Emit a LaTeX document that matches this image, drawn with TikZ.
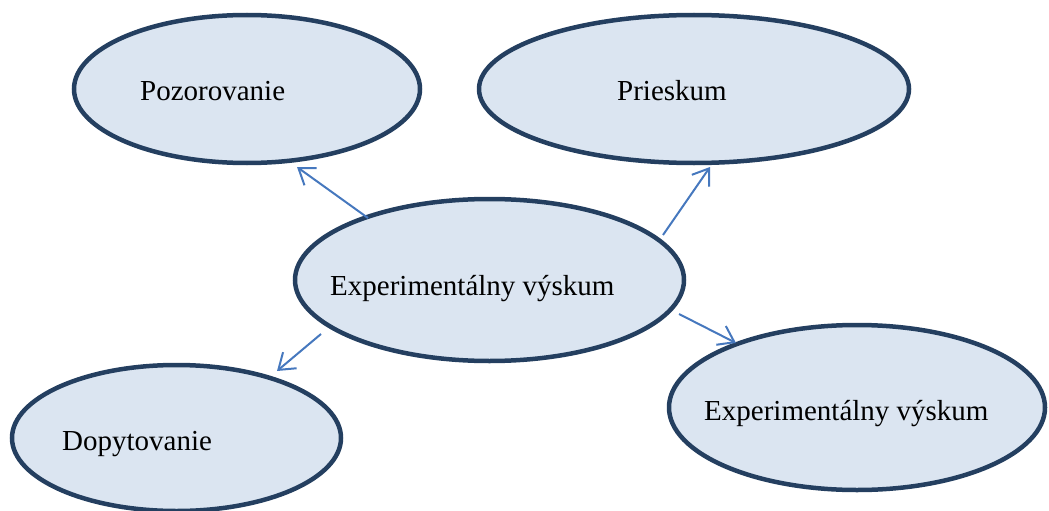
\documentclass[tikz,border=0pt]{standalone}
\usepackage{fontspec}
\setmainfont{Liberation Serif}
\usetikzlibrary{arrows.meta,shapes.geometric}
\definecolor{ebord}{RGB}{36,63,96}
\definecolor{efill}{RGB}{219,229,241}
\definecolor{arr}{RGB}{70,120,190}
\tikzset{
  oval/.style={ellipse, draw=ebord, fill=efill, line width=4.5pt, inner sep=0pt},
  lbl/.style={anchor=base west, font=\fontsize{29}{34}\selectfont, inner sep=0pt},
  conn/.style={draw=arr, line width=2pt, -{Straight Barb[length=15pt,width=21pt,line width=2pt]}}
}
\begin{document}
\begin{tikzpicture}[x=1pt,y=-1pt]
\useasboundingbox (0,0) rectangle (1049,511);
\node[oval, minimum width=346pt, minimum height=148pt] (poz) at (247,89) {};
\node[oval, minimum width=430pt, minimum height=148pt] (pri) at (694,89) {};
\node[oval, minimum width=389pt, minimum height=162pt] (exp) at (489.5,280) {};
\node[oval, minimum width=329pt, minimum height=146pt] (dop) at (176.5,438) {};
\node[oval, minimum width=376pt, minimum height=165pt] (exq) at (857,407.5) {};
\node[lbl] (pozt) at (140,100) {Pozorovanie};
\node[lbl] (prit) at (617,100) {Prieskum};
\node[lbl] (expt) at (330,295) {Experimentálny výskum};
\node[lbl] (dopt) at (62,450) {Dopytovanie};
\node[lbl] (exqt) at (704,420) {Experimentálny výskum};
\coordinate (s1) at (368,218);
\coordinate (e1) at (297,167);
\coordinate (s2) at (663,235);
\coordinate (e2) at (710,167);
\coordinate (s3) at (321,334);
\coordinate (e3) at (277,371);
\coordinate (s4) at (679,314);
\coordinate (e4) at (736,343);
\draw[conn] (s1) -- (e1);
\draw[conn] (s2) -- (e2);
\draw[conn] (s3) -- (e3);
\draw[conn] (s4) -- (e4);
\end{tikzpicture}
\end{document}
